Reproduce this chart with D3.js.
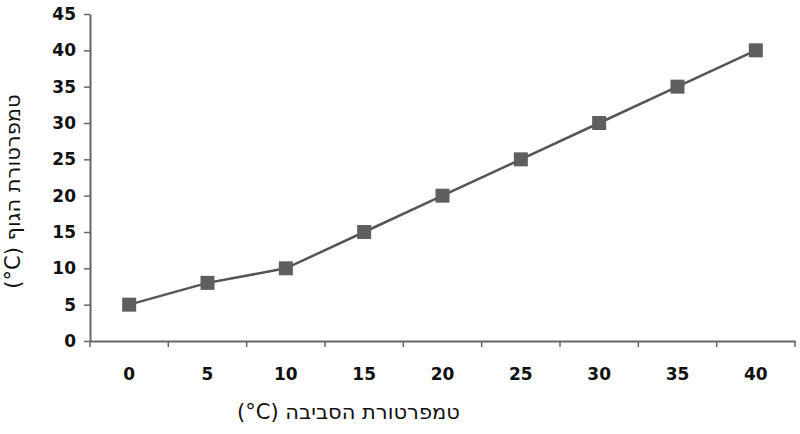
<!DOCTYPE html>
<html><head><meta charset="utf-8">
<script src="https://cdn.jsdelivr.net/npm/d3@7"></script>
<style>body{margin:0;background:#fff}</style></head>
<body><div id="chart"></div>
<script>
var categories = ['0', '5', '10', '15', '20', '25', '30', '35', '40'];
var bodyTemp = [5, 8, 10, 15, 20, 25, 30, 35, 40];
var yTicks = [0, 5, 10, 15, 20, 25, 30, 35, 40, 45];

var m = { left: 90, right: 5, top: 14, bottom: 93 };
var W = 800, H = 434;
var w = W - m.left - m.right, h = H - m.top - m.bottom;

var svg = d3.select('#chart').append('svg')
  .attr('width', W).attr('height', H)
  .append('g')
  .attr('transform', 'translate(' + m.left + ',' + m.top + ')');

var x = d3.scaleBand().domain(categories).range([0, w]);
var y = d3.scaleLinear().domain([0, 45]).range([h, 0]);

var font = 'DejaVu Sans, sans-serif';

svg.append('g')
  .attr('transform', 'translate(0,' + h + ')')
  .call(d3.axisBottom(x).tickSizeOuter(0).tickSize(0).tickPadding(27))
  .call(function (g) {
    g.selectAll('.tick text').attr('font-size', 17).attr('font-weight', 'bold').attr('font-family', font).attr('fill', '#111');
    g.select('.domain').attr('stroke', '#666').attr('stroke-width', 2);
  });

// ticks at band boundaries
svg.append('g').selectAll('line')
  .data(categories.concat(['end']))
  .join('line')
  .attr('x1', function (d, i) { return i * x.bandwidth(); })
  .attr('x2', function (d, i) { return i * x.bandwidth(); })
  .attr('y1', h).attr('y2', h + 6)
  .attr('stroke', '#666').attr('stroke-width', 1.5);

svg.append('g')
  .call(d3.axisLeft(y).tickValues(yTicks).tickSize(6).tickSizeOuter(0).tickPadding(8))
  .call(function (g) {
    g.selectAll('.tick text').attr('font-size', 17).attr('font-weight', 'bold').attr('font-family', font).attr('fill', '#111');
    g.selectAll('.tick line').attr('stroke', '#666').attr('stroke-width', 1.5);
    g.select('.domain').attr('stroke', '#666').attr('stroke-width', 2);
  });

var line = d3.line()
  .x(function (d, i) { return x(categories[i]) + x.bandwidth() / 2; })
  .y(function (d) { return y(d); });

svg.append('path').datum(bodyTemp)
  .attr('d', line).attr('fill', 'none')
  .attr('stroke', '#555').attr('stroke-width', 2.5);

svg.selectAll('.pt').data(bodyTemp).join('rect')
  .attr('class', 'pt')
  .attr('x', function (d, i) { return x(categories[i]) + x.bandwidth() / 2 - 7; })
  .attr('y', function (d) { return y(d) - 7; })
  .attr('width', 14).attr('height', 14)
  .attr('fill', '#5f5f5f');

svg.append('text')
  .attr('x', w / 2 - 94).attr('y', h + 78)
  .attr('text-anchor', 'middle').attr('direction', 'rtl')
  .attr('font-size', 21).attr('font-family', font).attr('fill', '#111')
  .text('טמפרטורת הסביבה \u2066(°C)\u2069');

svg.append('text')
  .attr('transform', 'translate(-70,' + (h / 2 + 14) + ') rotate(-90)')
  .attr('text-anchor', 'middle').attr('direction', 'rtl')
  .attr('font-size', 21).attr('font-family', font).attr('fill', '#111')
  .text('טמפרטורת הגוף \u2066(°C)\u2069');
</script></body></html>
